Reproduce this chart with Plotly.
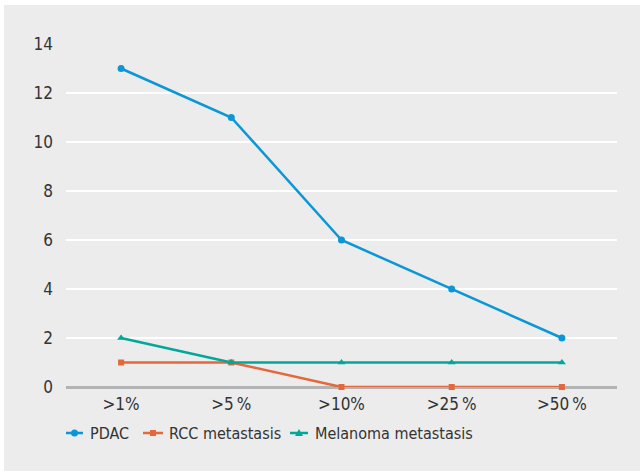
import plotly.graph_objects as go

categories = [">1%", ">5\u2009%", ">10%", ">25\u2009%", ">50\u2009%"]
pdac = [13, 11, 6, 4, 2]
rcc = [1, 1, 0, 0, 0]
melanoma = [2, 1, 1, 1, 1]
y_ticks = [0, 2, 4, 6, 8, 10, 12, 14]
series_names = ["PDAC", "RCC metastasis", "Melanoma metastasis"]

FONT = "DejaVu Sans Condensed, Roboto, Arial, sans-serif"
GRAY = "#ebeceb"
TXT = "#333333"
colors = ["#0b97d6", "#e4683c", "#00a899"]
symbols = ["circle", "square", "triangle-up"]
sizes = [7, 6, 7]

fig = go.Figure()
for name, vals, col, sym, sz in zip(series_names, [pdac, rcc, melanoma], colors, symbols, sizes):
    fig.add_trace(go.Scatter(
        x=categories, y=vals, name=name, mode="lines+markers",
        line=dict(color=col, width=2.5),
        marker=dict(color=col, symbol=sym, size=sz),
        cliponaxis=False, showlegend=False,
    ))

W, H = 640, 471
ml, mr, mt, mb = 66, 23, 44, 84
pw, ph = W - ml - mr, H - mt - mb


def px(x):
    return (x - ml) / pw


def py(y):
    return (mt + ph - y) / ph


# white border strips at top and left of the grey panel
fig.add_shape(type="rect", xref="paper", yref="paper",
              x0=px(0), x1=px(W), y0=py(5), y1=py(0),
              fillcolor="white", line=dict(width=0), layer="above")
fig.add_shape(type="rect", xref="paper", yref="paper",
              x0=px(0), x1=px(4), y0=py(H), y1=py(0),
              fillcolor="white", line=dict(width=0), layer="above")

# compact legend (short symbol line, as in the reference)
leg_y = 433
leg_items = [(66, 83, 88), (143, 163, 167), (290, 308, 313)]
for (lx0, lx1, tx), name, col, sym in zip(leg_items, series_names, colors, symbols):
    fig.add_shape(type="line", xref="paper", yref="paper",
                  x0=px(lx0), x1=px(lx1), y0=py(leg_y), y1=py(leg_y),
                  line=dict(color=col, width=2.5))
    cx = (lx0 + lx1) / 2
    r = 3.5
    if sym == "circle":
        fig.add_shape(type="circle", xref="paper", yref="paper",
                      x0=px(cx - r), x1=px(cx + r), y0=py(leg_y + r), y1=py(leg_y - r),
                      fillcolor=col, line=dict(width=0))
    elif sym == "square":
        r = 3
        fig.add_shape(type="rect", xref="paper", yref="paper",
                      x0=px(cx - r), x1=px(cx + r), y0=py(leg_y + r), y1=py(leg_y - r),
                      fillcolor=col, line=dict(width=0))
    else:
        path = "M {} {} L {} {} L {} {} Z".format(
            px(cx - 4), py(leg_y + 3), px(cx + 4), py(leg_y + 3), px(cx), py(leg_y - 4))
        fig.add_shape(type="path", xref="paper", yref="paper", path=path,
                      fillcolor=col, line=dict(width=0))
    fig.add_annotation(xref="paper", yref="paper", x=px(tx), y=py(leg_y),
                       xanchor="left", yanchor="middle", text=name, showarrow=False,
                       font=dict(size=16, color=TXT, family=FONT))

fig.update_layout(
    width=W, height=H,
    margin=dict(l=ml, r=mr, t=mt, b=mb, autoexpand=False),
    paper_bgcolor=GRAY, plot_bgcolor=GRAY,
    font=dict(family=FONT, size=17, color=TXT),
    showlegend=False,
    xaxis=dict(range=[-0.5, 4.5], showgrid=False, showline=False, ticks="",
               zeroline=False, tickfont=dict(size=17), ticklabelstandoff=5),
    yaxis=dict(range=[0, 14], tickvals=y_ticks, showgrid=True, gridcolor="white",
               gridwidth=2, zeroline=True, zerolinecolor="#b2b3b4", zerolinewidth=3,
               showline=False, ticks="", ticklabelstandoff=12, tickfont=dict(size=17)),
)

fig.write_html("out.html", post_script="document.body.style.margin='0';",
               config={"displayModeBar": False})
